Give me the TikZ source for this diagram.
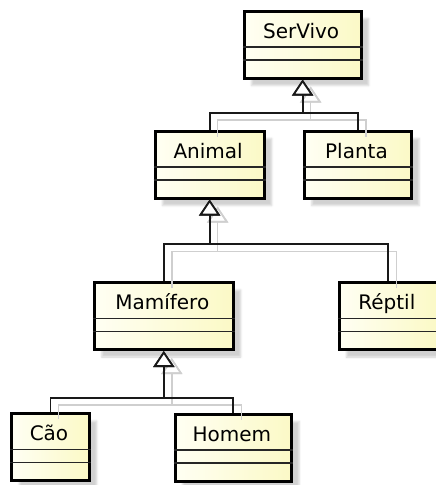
\documentclass[tikz,border=0pt]{standalone}
\usepackage{fontspec}
\setmainfont{DejaVu Sans}
\usetikzlibrary{arrows.meta,calc,shadows.blur}

\definecolor{classtop}{HTML}{FFFFF3}
\definecolor{classbot}{HTML}{FBF9C6}
\definecolor{linkgray}{HTML}{CFCFCF}

\tikzset{
  umlclass/.style={draw=black, line width=3pt, rectangle, minimum height=67pt,
    inner sep=0pt, left color=classtop, right color=classbot,
    blur shadow={shadow xshift=7.5pt, shadow yshift=-7.5pt,
      shadow blur radius=2pt, shadow opacity=18}},
  cname/.style={anchor=base, font=\fontsize{20}{24}\selectfont, inner sep=0pt},
  divider/.style={line width=1.5pt, draw=black!85},
  gen/.style={line width=1.8pt, draw=black!90, line join=miter,
    -{Triangle[length=16pt,width=21pt,fill=white]}},
  genshadow/.style={line width=1.6pt, draw=linkgray, line join=miter,
    transform canvas={xshift=8pt,yshift=-7pt},
    -{Triangle[open,length=16pt,width=21pt]}},
}

% two compartment lines below the class header
\newcommand\compartments[1]{%
  \draw[divider] ([yshift=-37.5pt]#1.north west) -- ([yshift=-37.5pt]#1.north east);
  \draw[divider] ([yshift=-50.5pt]#1.north west) -- ([yshift=-50.5pt]#1.north east);
}

\begin{document}
\begin{tikzpicture}[x=1pt,y=-1pt]
\path[use as bounding box, clip] (0,0) rectangle (436,485);

% class boxes
\node[umlclass, minimum width=117.3pt] (servivo)  at (302.65,44.5) {};
\node[umlclass, minimum width=109.3pt] (animal)   at (209.65,164.5) {};
\node[umlclass, minimum width=107.4pt] (planta)   at (358,164.5) {};
\node[umlclass, minimum width=139pt]   (mamifero) at (163.8,316) {};
\node[umlclass, minimum width=98.7pt]  (reptil)   at (388.35,316.2) {};
\node[umlclass, minimum width=77.6pt]  (cao)      at (50.5,447) {};
\node[umlclass, minimum width=116.7pt] (homem)    at (233.35,447.5) {};

\foreach \c in {servivo,animal,planta,mamifero,reptil,cao,homem}{\compartments{\c}}

% class names
\node[cname] at ($(servivo.north)+(-1.5,28.5)$)  {SerVivo};
\node[cname] at ($(animal.north)+(-1.5,28.5)$)   {Animal};
\node[cname] at ($(planta.north)+(-1.5,28.5)$)   {Planta};
\node[cname] at ($(mamifero.north)+(-1.5,28.5)$) {Mamífero};
\node[cname] at ($(reptil.north)+(-1.5,28.5)$)   {Réptil};
\node[cname] at ($(cao.north)+(-1.5,28.5)$)      {Cão};
\node[cname] at ($(homem.north)+(-1.5,28.5)$)    {Homem};

% heights of the horizontal bars of each generalization tree
\coordinate (bar1) at (0,112.7);
\coordinate (bar2) at (0,244.3);
\coordinate (bar3) at (0,398);

% generalization shadows
\draw[genshadow] (animal.north)   |- (servivo.south |- bar1)  -- (servivo.south);
\draw[genshadow] (planta.north)   |- (servivo.south |- bar1)  -- (servivo.south);
\draw[genshadow] (mamifero.north) |- (animal.south |- bar2)   -- (animal.south);
\draw[genshadow] (reptil.north)   |- (animal.south |- bar2)   -- (animal.south);
\draw[genshadow] (cao.north)      |- (mamifero.south |- bar3) -- (mamifero.south);
\draw[genshadow] (homem.north)    |- (mamifero.south |- bar3) -- (mamifero.south);

% generalizations
\draw[gen] (animal.north)   |- (servivo.south |- bar1)  -- (servivo.south);
\draw[gen] (planta.north)   |- (servivo.south |- bar1)  -- (servivo.south);
\draw[gen] (mamifero.north) |- (animal.south |- bar2)   -- (animal.south);
\draw[gen] (reptil.north)   |- (animal.south |- bar2)   -- (animal.south);
\draw[gen] (cao.north)      |- (mamifero.south |- bar3) -- (mamifero.south);
\draw[gen] (homem.north)    |- (mamifero.south |- bar3) -- (mamifero.south);
\end{tikzpicture}
\end{document}
